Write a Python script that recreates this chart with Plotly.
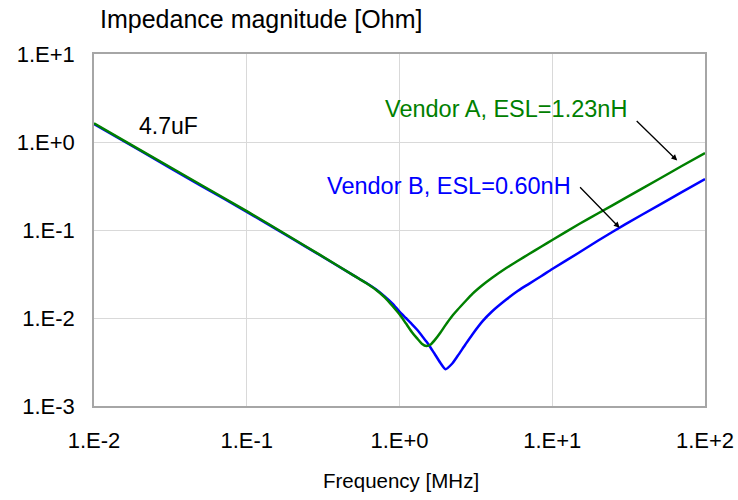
import plotly.graph_objects as go

# Frequency [MHz]
freq = [0.01, 0.02, 0.05, 0.1, 0.2, 0.3, 0.5, 0.6, 0.7, 0.8, 0.9, 1.0, 1.1, 1.2, 1.3,
        1.4, 1.5, 1.6, 1.7, 1.85, 2.0, 2.2, 2.4, 2.7, 3.0, 3.5, 4.0, 5.0, 6.0, 7.0,
        8.5, 10, 15, 20, 30, 50, 70, 100]

# Impedance magnitude [Ohm]
vendor_a = [1.63, 0.815, 0.327, 0.164, 0.080, 0.0525, 0.0305, 0.0252, 0.0210, 0.0172,
            0.0137, 0.0110, 0.0087, 0.0070, 0.0059, 0.0051, 0.0048, 0.0050, 0.0056, 0.0068,
            0.0083, 0.0104, 0.0124, 0.0155, 0.0188, 0.0237, 0.0283, 0.0370, 0.0450, 0.0530,
            0.0650, 0.0770, 0.117, 0.155, 0.230, 0.380, 0.530, 0.750]
vendor_b = [1.60, 0.800, 0.320, 0.161, 0.079, 0.052, 0.0305, 0.0253, 0.0212, 0.0176,
            0.0146, 0.0118, 0.0100, 0.0086, 0.0074, 0.0063, 0.0054, 0.0046, 0.0039, 0.0031,
            0.00262, 0.0030, 0.0037, 0.0050, 0.0065, 0.0092, 0.0117, 0.0162, 0.0205, 0.0243,
            0.0300, 0.0360, 0.0555, 0.0760, 0.116, 0.192, 0.268, 0.380]

x_ticks = [0.01, 0.1, 1, 10, 100]
x_tick_labels = ["1.E-2", "1.E-1", "1.E+0", "1.E+1", "1.E+2"]
y_ticks = [0.001, 0.01, 0.1, 1, 10]
y_tick_labels = ["1.E-3", "1.E-2", "1.E-1", "1.E+0", "1.E+1"]

FONT = "Liberation Sans, Arial, sans-serif"
GREEN = "#008000"
BLUE = "#0000ff"

fig = go.Figure()
fig.add_trace(go.Scatter(x=freq, y=vendor_b, mode="lines",
                         line=dict(color=BLUE, width=2.5, shape="spline", smoothing=0.6),
                         name="Vendor B"))
fig.add_trace(go.Scatter(x=freq, y=vendor_a, mode="lines",
                         line=dict(color=GREEN, width=2.5, shape="spline", smoothing=0.6),
                         name="Vendor A"))

axis_common = dict(showgrid=True, gridcolor="#d9d9d9", gridwidth=1,
                   showline=True, linecolor="#a6a6a6", linewidth=1.5, mirror=True,
                   ticks="", zeroline=False, automargin=False,
                   tickfont=dict(family=FONT, size=22, color="#000000"))

fig.update_xaxes(type="log", range=[-2, 2], tickvals=x_ticks, ticktext=x_tick_labels,
                 ticklabelstandoff=14, **axis_common)
fig.update_yaxes(type="log", range=[-3, 1], tickvals=y_ticks, ticktext=y_tick_labels,
                 ticklabelstandoff=13, **axis_common)

annotations = [
    dict(text="Impedance magnitude [Ohm]", xref="paper", yref="paper", x=0.006, y=1.0,
         yshift=35, xanchor="left", yanchor="middle", showarrow=False,
         font=dict(family=FONT, size=25, color="#000000")),
    dict(text="Frequency [MHz]", xref="paper", yref="paper", x=0.503, y=0, yshift=-74,
         xanchor="center", yanchor="middle", showarrow=False,
         font=dict(family=FONT, size=20.5, color="#000000")),
    dict(text="4.7uF", x=-1.511, y=0.1875, xref="x", yref="y", showarrow=False,
         font=dict(family=FONT, size=23, color="#000000")),
    dict(text="Vendor A, ESL=1.23nH", x=0.695, y=0.375, xref="x", yref="y", showarrow=False,
         font=dict(family=FONT, size=23.5, color=GREEN)),
    dict(text="Vendor B, ESL=0.60nH", x=0.326, y=-0.5, xref="x", yref="y", showarrow=False,
         font=dict(family=FONT, size=23.5, color=BLUE)),
    dict(text="", x=1.818, y=-0.21, xref="x", yref="y", showarrow=True,
         ax=-42, ay=-41, arrowhead=2, arrowsize=0.9, arrowwidth=1.3, arrowcolor="#000000"),
    dict(text="", x=1.441, y=-0.975, xref="x", yref="y", showarrow=True,
         ax=-41, ay=-42, arrowhead=2, arrowsize=0.9, arrowwidth=1.3, arrowcolor="#000000"),
]

fig.update_layout(width=738, height=500, margin=dict(l=94, r=33, t=54, b=94, autoexpand=False),
                  plot_bgcolor="#ffffff", paper_bgcolor="#ffffff", showlegend=False,
                  annotations=annotations)

fig.write_html("out.html", config={"displayModeBar": False},
               post_script="document.body.style.margin='0';document.body.style.padding='0';")
